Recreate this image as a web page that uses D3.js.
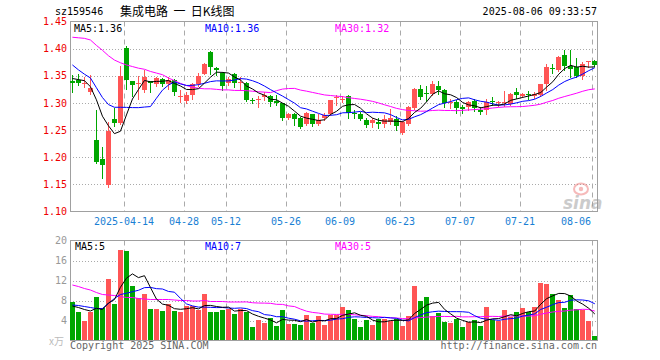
<!DOCTYPE html>
<html>
<head>
<meta charset="utf-8">
<script src="https://cdn.jsdelivr.net/npm/d3@7"></script>
<style>
  body { margin: 0; background: #fff; }
  svg text { font-family: "DejaVu Sans Mono", monospace; font-size: 10px; }
</style>
</head>
<body>
<svg id="chart" width="660" height="360"></svg>
<script>
// trading days shown, 2025-03-31 .. 2025-08-06
let dates = [
  "2025-03-31", "2025-04-01", "2025-04-02", "2025-04-03", "2025-04-07", "2025-04-08", "2025-04-09", "2025-04-10", "2025-04-11",
  "2025-04-14", "2025-04-15", "2025-04-16", "2025-04-17", "2025-04-18", "2025-04-21", "2025-04-22", "2025-04-23", "2025-04-24", "2025-04-25",
  "2025-04-28", "2025-04-29", "2025-04-30", "2025-05-06", "2025-05-07", "2025-05-08", "2025-05-09",
  "2025-05-12", "2025-05-13", "2025-05-14", "2025-05-15", "2025-05-16", "2025-05-19", "2025-05-20", "2025-05-21", "2025-05-22", "2025-05-23",
  "2025-05-26", "2025-05-27", "2025-05-28", "2025-05-29", "2025-05-30", "2025-06-03", "2025-06-04", "2025-06-05", "2025-06-06",
  "2025-06-09", "2025-06-10", "2025-06-11", "2025-06-12", "2025-06-13", "2025-06-16", "2025-06-17", "2025-06-18", "2025-06-19", "2025-06-20",
  "2025-06-23", "2025-06-24", "2025-06-25", "2025-06-26", "2025-06-27", "2025-06-30", "2025-07-01", "2025-07-02", "2025-07-03", "2025-07-04",
  "2025-07-07", "2025-07-08", "2025-07-09", "2025-07-10", "2025-07-11", "2025-07-14", "2025-07-15", "2025-07-16", "2025-07-17", "2025-07-18",
  "2025-07-21", "2025-07-22", "2025-07-23", "2025-07-24", "2025-07-25", "2025-07-28", "2025-07-29", "2025-07-30", "2025-07-31", "2025-08-01",
  "2025-08-04", "2025-08-05", "2025-08-06"
];

let open = [
  1.341, 1.343, 1.334, 1.321, 1.231, 1.196, 1.148, 1.271, 1.263, 1.402,
  1.341, 1.334, 1.323, 1.340, 1.335, 1.344, 1.335, 1.342, 1.312, 1.304,
  1.314, 1.334, 1.354, 1.393, 1.365, 1.356, 1.336, 1.354, 1.337, 1.337,
  1.305, 1.305, 1.311, 1.312, 1.304, 1.299, 1.272, 1.279, 1.273, 1.261,
  1.279, 1.261, 1.273, 1.279, 1.309, 1.305, 1.312, 1.282, 1.279, 1.268,
  1.263, 1.265, 1.262, 1.265, 1.271, 1.244, 1.261, 1.290, 1.326, 1.318,
  1.316, 1.331, 1.324, 1.299, 1.301, 1.293, 1.293, 1.304, 1.287, 1.287,
  1.304, 1.300, 1.300, 1.298, 1.320, 1.312, 1.316, 1.312, 1.315, 1.334,
  1.365, 1.360, 1.388, 1.368, 1.366, 1.350, 1.376, 1.377
];
let high = [
  1.351, 1.354, 1.347, 1.351, 1.287, 1.219, 1.265, 1.291, 1.368, 1.405,
  1.341, 1.350, 1.361, 1.341, 1.348, 1.346, 1.347, 1.344, 1.323, 1.320,
  1.336, 1.356, 1.374, 1.395, 1.366, 1.357, 1.348, 1.356, 1.347, 1.339,
  1.309, 1.312, 1.320, 1.314, 1.314, 1.300, 1.282, 1.281, 1.274, 1.283,
  1.280, 1.279, 1.281, 1.306, 1.315, 1.312, 1.314, 1.287, 1.283, 1.273,
  1.273, 1.273, 1.277, 1.288, 1.276, 1.266, 1.294, 1.328, 1.333, 1.332,
  1.340, 1.340, 1.325, 1.307, 1.305, 1.296, 1.304, 1.307, 1.293, 1.308,
  1.310, 1.304, 1.322, 1.318, 1.327, 1.319, 1.322, 1.320, 1.335, 1.372,
  1.372, 1.386, 1.397, 1.397, 1.383, 1.375, 1.377, 1.380
];
let low = [
  1.321, 1.333, 1.329, 1.317, 1.190, 1.162, 1.145, 1.257, 1.261, 1.325,
  1.313, 1.308, 1.321, 1.321, 1.331, 1.331, 1.325, 1.314, 1.301, 1.300,
  1.308, 1.332, 1.353, 1.354, 1.352, 1.324, 1.333, 1.330, 1.323, 1.304,
  1.300, 1.292, 1.305, 1.294, 1.296, 1.268, 1.271, 1.259, 1.253, 1.259,
  1.257, 1.259, 1.268, 1.277, 1.296, 1.302, 1.273, 1.273, 1.268, 1.256,
  1.256, 1.254, 1.256, 1.262, 1.250, 1.242, 1.259, 1.288, 1.307, 1.303,
  1.315, 1.316, 1.293, 1.291, 1.281, 1.281, 1.287, 1.285, 1.279, 1.279,
  1.296, 1.295, 1.295, 1.296, 1.309, 1.310, 1.307, 1.309, 1.312, 1.324,
  1.356, 1.359, 1.360, 1.348, 1.348, 1.344, 1.366, 1.368
];
let close = [
  1.337, 1.337, 1.336, 1.327, 1.192, 1.186, 1.249, 1.263, 1.349, 1.342,
  1.333, 1.336, 1.347, 1.336, 1.346, 1.335, 1.342, 1.320, 1.313, 1.314,
  1.334, 1.350, 1.372, 1.367, 1.360, 1.332, 1.344, 1.336, 1.339, 1.305,
  1.304, 1.308, 1.315, 1.302, 1.300, 1.273, 1.279, 1.270, 1.256, 1.282,
  1.262, 1.268, 1.277, 1.305, 1.311, 1.308, 1.282, 1.279, 1.271, 1.259,
  1.269, 1.262, 1.271, 1.272, 1.257, 1.265, 1.293, 1.326, 1.310, 1.317,
  1.334, 1.324, 1.299, 1.301, 1.291, 1.289, 1.302, 1.290, 1.283, 1.302,
  1.302, 1.302, 1.302, 1.316, 1.315, 1.316, 1.315, 1.316, 1.334, 1.366,
  1.364, 1.385, 1.368, 1.363, 1.350, 1.372, 1.377, 1.370
];
// volume, in 10k
let volume = [
  7.8, 5.8, 4.0, 5.8, 8.8, 6.6, 12.3, 7.4, 18.1, 17.9,
  10.9, 8.6, 9.3, 6.3, 6.3, 5.9, 7.4, 5.9, 5.7, 6.9,
  6.9, 6.2, 9.3, 5.8, 5.8, 6.1, 6.4, 5.3, 6.4, 5.7,
  2.7, 4.1, 3.5, 4.5, 2.9, 6.1, 3.4, 3.3, 3.1, 5.1,
  3.5, 4.9, 3.1, 5.2, 5.2, 6.8, 6.1, 4.4, 2.7, 4.1,
  3.1, 4.4, 4.4, 4.0, 4.4, 2.9, 4.9, 10.9, 8.0, 8.7,
  4.9, 5.6, 3.8, 3.6, 4.4, 2.7, 3.8, 4.1, 2.9, 6.8,
  4.1, 4.0, 6.1, 4.8, 5.7, 6.5, 5.7, 6.8, 11.6, 11.3,
  9.3, 8.1, 6.6, 9.1, 6.4, 6.1, 4.0, 0.9
];

// MA values on the first days (their windows start before the visible range)
let ma5Head = [1.345, 1.343, 1.341, 1.330];
let ma10Head = [1.370, 1.361, 1.353, 1.346, 1.328, 1.310, 1.297, 1.292, 1.292];
let ma30Head = [1.421, 1.420, 1.419, 1.416, 1.406, 1.397, 1.387, 1.379, 1.374, 1.370,
  1.367, 1.364, 1.362, 1.358, 1.355, 1.352, 1.346, 1.341, 1.336, 1.332,
  1.329, 1.327, 1.326, 1.326, 1.325, 1.324, 1.324, 1.323, 1.323];
let vma5Head = [6.9, 6.6, 6.2, 5.9];
let vma10Head = [7.1, 7.0, 6.8, 6.6, 6.4, 6.4, 7.4, 8.4, 9.2];
let vma30Head = [11.1, 10.8, 10.4, 10.1, 9.6, 9.2, 9.1, 9.0, 8.8, 8.6,
  8.6, 8.4, 8.3, 8.2, 8.2, 8.2, 8.2, 8.1, 8.0, 8.0,
  7.9, 7.9, 8.0, 7.8, 7.8, 7.8, 7.7, 7.7, 7.7];

let tickDates = ["2025-04-14", "2025-04-28", "2025-05-12", "2025-05-26", "2025-06-09",
  "2025-06-23", "2025-07-07", "2025-07-21", "2025-08-06"];
let tickLabels = ["2025-04-14", "04-28", "05-12", "05-26", "06-09", "06-23", "07-07", "07-21", "08-06"];
let priceTicks = [1.10, 1.15, 1.20, 1.25, 1.30, 1.35, 1.40, 1.45];
let volumeTicks = [4, 8, 12, 16, 20];

let code = "sz159546";
let title = "集成电路 一 日K线图";
let stamp = "2025-08-06 09:33:57";

// layout
let left = 70, right = 597;
let pTop = 21.5, pBottom = 211.5;
let vTop = 240.5, vBottom = 340.5;

let up = "#ff5555", down = "#00a600";
let frame = "#a0a0a0", grid = "#aaaaaa";

let svg = d3.select("#chart");

let x = d3.scalePoint().domain(dates).range([72.4, 594.8]);
let y = d3.scaleLinear().domain([1.10, 1.45]).range([pBottom, pTop]);
let yv = d3.scaleLinear().domain([0, 20]).range([vBottom, vTop]);

let movingAvg = function (vals, n, head) {
    return vals.map(function (v, i) {
        if (i < head.length) return head[i];
        return d3.mean(vals.slice(i - n + 1, i + 1));
    });
}

let ma5 = movingAvg(close, 5, ma5Head);
let ma10 = movingAvg(close, 10, ma10Head);
let ma30 = movingAvg(close, 30, ma30Head);
let vma5 = movingAvg(volume, 5, vma5Head);
let vma10 = movingAvg(volume, 10, vma10Head);
let vma30 = movingAvg(volume, 30, vma30Head);

let bars = dates.map(function (d, i) {
    return { date: d, o: open[i], h: high[i], l: low[i], c: close[i], v: volume[i] };
});

// left edge of a 5px body
let bodyX = function (d) { return Math.round(x(d) - 2.5); }
let colorOf = function (d) { return d.c >= d.o ? up : down; }

// header
svg.append("text").attr("x", 55).attr("y", 15).text(code);
svg.append("text").attr("x", 120).attr("y", 16)
    .style("font-family", "'Noto Sans CJK SC', sans-serif")
    .style("font-size", "12px")
    .attr("xml:space", "preserve")
    .style("white-space", "pre")
    .text(title.replace(/ /g, "  "));
svg.append("text").attr("x", right).attr("y", 15).attr("text-anchor", "end").text(stamp);

// horizontal grid
svg.append("g").selectAll("line")
    .data(priceTicks.slice(1, -1))
    .enter().append("line")
    .attr("x1", left).attr("x2", right)
    .attr("y1", function (d) { return Math.round(y(d)) + 0.5; })
    .attr("y2", function (d) { return Math.round(y(d)) + 0.5; })
    .attr("stroke", grid).attr("stroke-dasharray", "1,2");

svg.append("g").selectAll("line")
    .data(volumeTicks.slice(0, -1))
    .enter().append("line")
    .attr("x1", left).attr("x2", right)
    .attr("y1", function (d) { return Math.round(yv(d)) + 0.5; })
    .attr("y2", function (d) { return Math.round(yv(d)) + 0.5; })
    .attr("stroke", grid).attr("stroke-dasharray", "1,2");

// vertical grid, both panels
[[pTop, pBottom], [vTop, vBottom]].forEach(function (span) {
    svg.append("g").selectAll("line")
        .data(tickDates)
        .enter().append("line")
        .attr("x1", function (d) { return bodyX(d) + 0.5; })
        .attr("x2", function (d) { return bodyX(d) + 0.5; })
        .attr("y1", span[0]).attr("y2", span[1])
        .attr("stroke", grid).attr("stroke-dasharray", "5,4");
});

// frames
[[pTop, pBottom], [vTop, vBottom]].forEach(function (span) {
    svg.append("rect")
        .attr("x", left + 0.5).attr("y", span[0])
        .attr("width", right - left).attr("height", span[1] - span[0])
        .attr("fill", "none").attr("stroke", frame);
});

// sina watermark
let mark = svg.append("g").attr("opacity", 0.5);
mark.append("ellipse").attr("cx", 581).attr("cy", 189).attr("rx", 7).attr("ry", 5.5)
    .attr("fill", "none").attr("stroke", "#e77").attr("stroke-width", 2);
mark.append("circle").attr("cx", 581).attr("cy", 189).attr("r", 2.2).attr("fill", "#e77");
mark.append("text").attr("x", 563).attr("y", 209)
    .style("font-family", "'DejaVu Sans', sans-serif")
    .style("font-size", "17px").style("font-style", "italic").style("font-weight", "bold")
    .attr("fill", "#999").text("sina");

// candles
let candle = svg.append("g").selectAll("g")
    .data(bars)
    .enter().append("g");

candle.append("line")
    .attr("x1", function (d) { return bodyX(d.date) + 2.5; })
    .attr("x2", function (d) { return bodyX(d.date) + 2.5; })
    .attr("y1", function (d) { return Math.round(y(d.h)); })
    .attr("y2", function (d) { return Math.round(y(d.l)) + 1; })
    .attr("stroke", colorOf);

candle.append("rect")
    .attr("x", function (d) { return bodyX(d.date); })
    .attr("width", 5)
    .attr("y", function (d) { return Math.round(y(Math.max(d.o, d.c))); })
    .attr("height", function (d) {
        return Math.max(1, Math.round(y(Math.min(d.o, d.c))) - Math.round(y(Math.max(d.o, d.c))));
    })
    .attr("fill", colorOf);

// volume bars
svg.append("g").selectAll("rect")
    .data(bars)
    .enter().append("rect")
    .attr("x", function (d) { return bodyX(d.date); })
    .attr("width", 5)
    .attr("y", function (d) { return Math.round(yv(d.v)); })
    .attr("height", function (d) { return vBottom - 0.5 - Math.round(yv(d.v)); })
    .attr("fill", colorOf);

// MA lines
let drawLine = function (vals, scale, color) {
    let line = d3.line()
        .x(function (d, i) { return x(dates[i]); })
        .y(function (d) { return scale(d); });
    svg.append("path")
        .attr("d", line(vals))
        .attr("fill", "none")
        .attr("stroke", color)
        .attr("stroke-width", 1);
}

drawLine(ma30, y, "#ff00ff");
drawLine(ma10, y, "#0000ff");
drawLine(ma5, y, "#000000");
drawLine(vma30, yv, "#ff00ff");
drawLine(vma10, yv, "#0000ff");
drawLine(vma5, yv, "#000000");

// legends
let last = function (a) { return a[a.length - 1]; }
let fmtPrice = function (v) { return (Math.floor(v * 100) / 100).toFixed(2); }
let fmtVol = function (v) { return String(Math.floor(v)); }

let legend = function (yPos, items) {
    items.forEach(function (it) {
        svg.append("text").attr("x", it[0]).attr("y", yPos).attr("fill", it[2]).text(it[1]);
    });
}
legend(32, [[74, "MA5:" + fmtPrice(last(ma5)), "#000"],
    [205, "MA10:" + fmtPrice(last(ma10)), "#0000ff"],
    [335, "MA30:" + fmtPrice(last(ma30)), "#ff00ff"]]);
legend(250, [[75, "MA5:" + fmtVol(last(vma5)), "#000"],
    [205, "MA10:" + fmtVol(last(vma10)), "#0000ff"],
    [335, "MA30:" + fmtVol(last(vma30)), "#ff00ff"]]);

// price axis labels
let yAxis = d3.axisLeft(y).tickValues(priceTicks).tickSize(0).tickPadding(3)
    .tickFormat(function (d) { return d.toFixed(2); });
let ya = svg.append("g").attr("transform", "translate(" + left + ",0)").call(yAxis);
ya.select(".domain").remove();
ya.selectAll("text").attr("fill", "#ee0000")
    .style("font-family", "'DejaVu Sans Mono', monospace").style("font-size", "10px");

let vAxis = d3.axisLeft(yv).tickValues(volumeTicks).tickSize(0).tickPadding(3);
let va = svg.append("g").attr("transform", "translate(" + left + ",0)").call(vAxis);
va.select(".domain").remove();
va.selectAll("text").attr("fill", "#999")
    .style("font-family", "'DejaVu Sans Mono', monospace").style("font-size", "10px");

svg.append("text").attr("x", 64).attr("y", 345).attr("text-anchor", "end")
    .attr("fill", "#bbb")
    .style("font-family", "'Noto Sans CJK SC', sans-serif").style("font-size", "10px")
    .text("x万");

// date labels
svg.append("g").selectAll("text")
    .data(tickDates)
    .enter().append("text")
    .attr("x", function (d, i) {
        return i === tickDates.length - 1 ? bodyX(d) - 1 : bodyX(d);
    })
    .attr("y", 225)
    .attr("text-anchor", function (d, i) { return i === tickDates.length - 1 ? "end" : "middle"; })
    .attr("fill", "#1a7fd4")
    .text(function (d, i) { return tickLabels[i]; });

// footer
svg.append("text").attr("x", 70).attr("y", 349).attr("fill", "#666").text("Copyright 2025 SINA.COM");
svg.append("text").attr("x", right).attr("y", 349).attr("text-anchor", "end")
    .attr("fill", "#666").text("http://finance.sina.com.cn");
</script>
</body>
</html>
